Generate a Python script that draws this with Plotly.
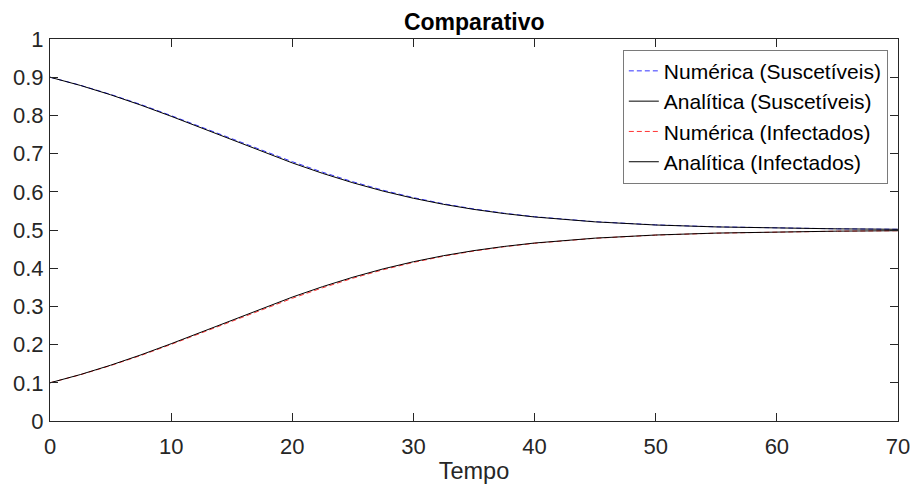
import plotly.graph_objects as go

# Time samples
tempo = [0, 2.5, 5, 7.5, 10, 12.5, 15, 17.5, 20, 22.5, 25, 27.5, 30, 32.5, 35,
         37.5, 40, 45, 50, 55, 60, 65, 70]

# Infected
inf_analitica = [0.100, 0.1215, 0.1460, 0.1731, 0.2023, 0.2330, 0.2642, 0.2950,
                 0.3244, 0.3517, 0.3764, 0.3982, 0.4170, 0.4329, 0.4461, 0.4570,
                 0.4659, 0.4787, 0.4869, 0.4919, 0.4951, 0.4970, 0.4982]
inf_numerica = [0.100, 0.1210, 0.1450, 0.1715, 0.2005, 0.2305, 0.2612, 0.2918,
                0.3212, 0.3487, 0.3738, 0.3960, 0.4152, 0.4315, 0.4450, 0.4562,
                0.4652, 0.4783, 0.4866, 0.4917, 0.4950, 0.4969, 0.4981]

# Susceptible
sus_analitica = [0.900, 0.8785, 0.8540, 0.8269, 0.7977, 0.7670, 0.7358, 0.7050,
                 0.6756, 0.6483, 0.6236, 0.6018, 0.5830, 0.5671, 0.5539, 0.5430,
                 0.5341, 0.5213, 0.5131, 0.5081, 0.5049, 0.5030, 0.5018]
sus_numerica = [0.900, 0.8790, 0.8550, 0.8285, 0.7995, 0.7695, 0.7388, 0.7082,
                0.6788, 0.6513, 0.6262, 0.6040, 0.5848, 0.5685, 0.5550, 0.5438,
                0.5348, 0.5217, 0.5134, 0.5083, 0.5050, 0.5031, 0.5019]

x_ticks = [0, 10, 20, 30, 40, 50, 60, 70]
y_ticks = [0, 0.1, 0.2, 0.3, 0.4, 0.5, 0.6, 0.7, 0.8, 0.9, 1]
y_tick_labels = ["0", "0.1", "0.2", "0.3", "0.4", "0.5", "0.6", "0.7", "0.8", "0.9", "1"]

FONT = "Liberation Sans, Arial, Helvetica, sans-serif"
AX = "#262626"

fig = go.Figure()
fig.add_trace(go.Scatter(x=tempo, y=sus_numerica, mode="lines", name="Numérica (Suscetíveis)",
                         line=dict(color="#3333ff", width=1, dash="5px,3px")))
fig.add_trace(go.Scatter(x=tempo, y=sus_analitica, mode="lines", name="Analítica (Suscetíveis)",
                         line=dict(color="black", width=1)))
fig.add_trace(go.Scatter(x=tempo, y=inf_numerica, mode="lines", name="Numérica (Infectados)",
                         line=dict(color="#ff3333", width=1, dash="5px,3px")))
fig.add_trace(go.Scatter(x=tempo, y=inf_analitica, mode="lines", name="Analítica (Infectados)",
                         line=dict(color="black", width=1)))

axis_common = dict(showgrid=False, zeroline=False, showline=True, linecolor=AX, linewidth=1,
                   mirror="ticks", ticks="inside", ticklen=8, tickcolor=AX, tickwidth=1,
                   automargin=False,
                   tickfont=dict(family=FONT, size=22, color=AX))

fig.update_xaxes(range=[0, 70], tickvals=x_ticks, ticktext=[str(v) for v in x_ticks],
                 ticklabelstandoff=6,
                 title=dict(text="Tempo", font=dict(family=FONT, size=23.5, color=AX), standoff=4),
                 **axis_common)
fig.update_yaxes(range=[0, 1], tickvals=y_ticks, ticktext=y_tick_labels,
                 ticklabelstandoff=1, **axis_common)

fig.update_layout(
    width=912, height=486,
    margin=dict(l=50, r=14, t=39, b=65, autoexpand=False),
    plot_bgcolor="white", paper_bgcolor="white",
    title=dict(text="<b>Comparativo</b>", x=0.52, xanchor="center", y=0.955, yanchor="middle",
               automargin=False,
               font=dict(family=FONT, size=23, color="black")),
    legend=dict(x=0.988, y=0.972, xanchor="right", yanchor="top",
                bgcolor="white", bordercolor="#7a7a7a", borderwidth=1,
                font=dict(family=FONT, size=21, color="black"),
                tracegroupgap=0, itemwidth=30),
    showlegend=True,
)

fig.write_html("out.html", config={"displayModeBar": False},
               post_script="document.body.style.margin='0';document.body.style.overflow='hidden';")
